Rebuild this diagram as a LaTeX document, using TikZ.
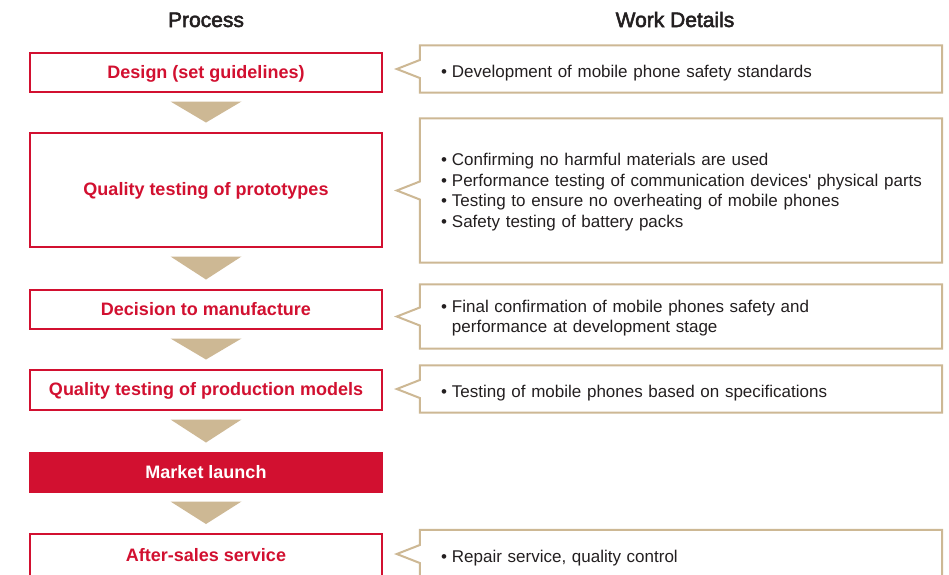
\documentclass[tikz,border=0pt]{standalone}
\usepackage{fontspec}
\setmainfont{Liberation Sans}
\newfontfamily\hdrfont[FakeBold=2.5]{Liberation Sans}
\usetikzlibrary{calc}
\definecolor{pred}{HTML}{D21030}
\definecolor{ptan}{HTML}{CDB894}
\definecolor{ptext}{HTML}{231F20}
\newcommand\dnby[2]{\raisebox{-#1}[\height][\depth]{#2}}
\begin{document}
\begin{tikzpicture}[x=1pt,y=-1pt,
 pbox/.style={draw=pred, line width=2pt, fill=white, minimum width=352pt, inner sep=0pt, text height=12.9pt, text depth=0pt, text=pred, font=\fontsize{18}{21}\selectfont\bfseries},
 pfill/.style={pbox, fill=pred, text=white},
 rbox/.style={text width=480pt, align=left, inner xsep=21pt, inner ysep=0pt, text=ptext, font=\fontsize{17}{20.5}\selectfont},
 callout/.style={draw=ptan, line width=2pt, line join=miter},
 tri/.style={fill=ptan},
 hdr/.style={text=ptext, font=\hdrfont\fontsize{21}{24}\selectfont, anchor=base}]
\clip (0,0) rectangle (949,574);
\fill[white] (0,0) rectangle (949,574);
% headers
\node[hdr] (hp) at (206,27) {Process};
\node[hdr] (hw) at (675,27) {Work Details};
% process boxes
\node[pbox, minimum height=39pt] (p1) at (206,72) {Design (set guidelines)};
\node[pbox, minimum height=114pt] (p2) at (206,189.5) {Quality testing of prototypes};
\node[pbox, minimum height=39pt] (p3) at (206,309) {Decision to manufacture};
\node[pbox, minimum height=40pt] (p4) at (206,389.5) {Quality testing of production models};
\node[pfill, minimum height=39pt] (p5) at (206,472) {Market launch};
\node[pbox, minimum height=42pt] (p6) at (206,555) {After-sales service};
% arrows
\foreach \a/\b in {p1/p2,p2/p3,p3/p4,p4/p5,p5/p6}
  \fill[tri] ($(\a.south)+(-35.5,9)$) -- ($(\a.south)+(35.5,9)$) -- ($(\b.north)+(0,-9)$) -- cycle;
% work details
\node[rbox, minimum height=47pt] (r1) at (681,69) {\dnby{4pt}{\begin{tabular}{@{}l@{\hspace{5pt}}l@{}}\textbullet & Development of mobile phone safety standards\end{tabular}}};
\node[rbox, minimum height=144pt] (r2) at (681,190.5) {\dnby{2pt}{\begin{tabular}{@{}l@{\hspace{5pt}}l@{}}\textbullet & Confirming no harmful materials are used\\ \textbullet & Performance testing of communication devices\textquotesingle{} physical parts\\ \textbullet & Testing to ensure no overheating of mobile phones\\ \textbullet & Safety testing of battery packs\end{tabular}}};
\node[rbox, minimum height=64pt] (r3) at (681,316.5) {\dnby{2pt}{\begin{tabular}{@{}l@{\hspace{5pt}}l@{}}\textbullet & Final confirmation of mobile phones safety and\\ & performance at development stage\end{tabular}}};
\node[rbox, minimum height=47pt] (r4) at (681,389) {\dnby{4.5pt}{\begin{tabular}{@{}l@{\hspace{5pt}}l@{}}\textbullet & Testing of mobile phones based on specifications\end{tabular}}};
\node[rbox, minimum height=48pt] (r6) at (681,554) {\dnby{4pt}{\begin{tabular}{@{}l@{\hspace{5pt}}l@{}}\textbullet & Repair service, quality control\end{tabular}}};
\foreach \n in {r1,r2,r3,r4,r6}
  \draw[callout] (\n.north west) -- ($(\n.west)+(0,-9)$) -- ($(\n.west)+(-23,0)$) -- ($(\n.west)+(0,9)$) -- (\n.south west) -- (\n.south east) -- (\n.north east) -- cycle;
\end{tikzpicture}
\end{document}
